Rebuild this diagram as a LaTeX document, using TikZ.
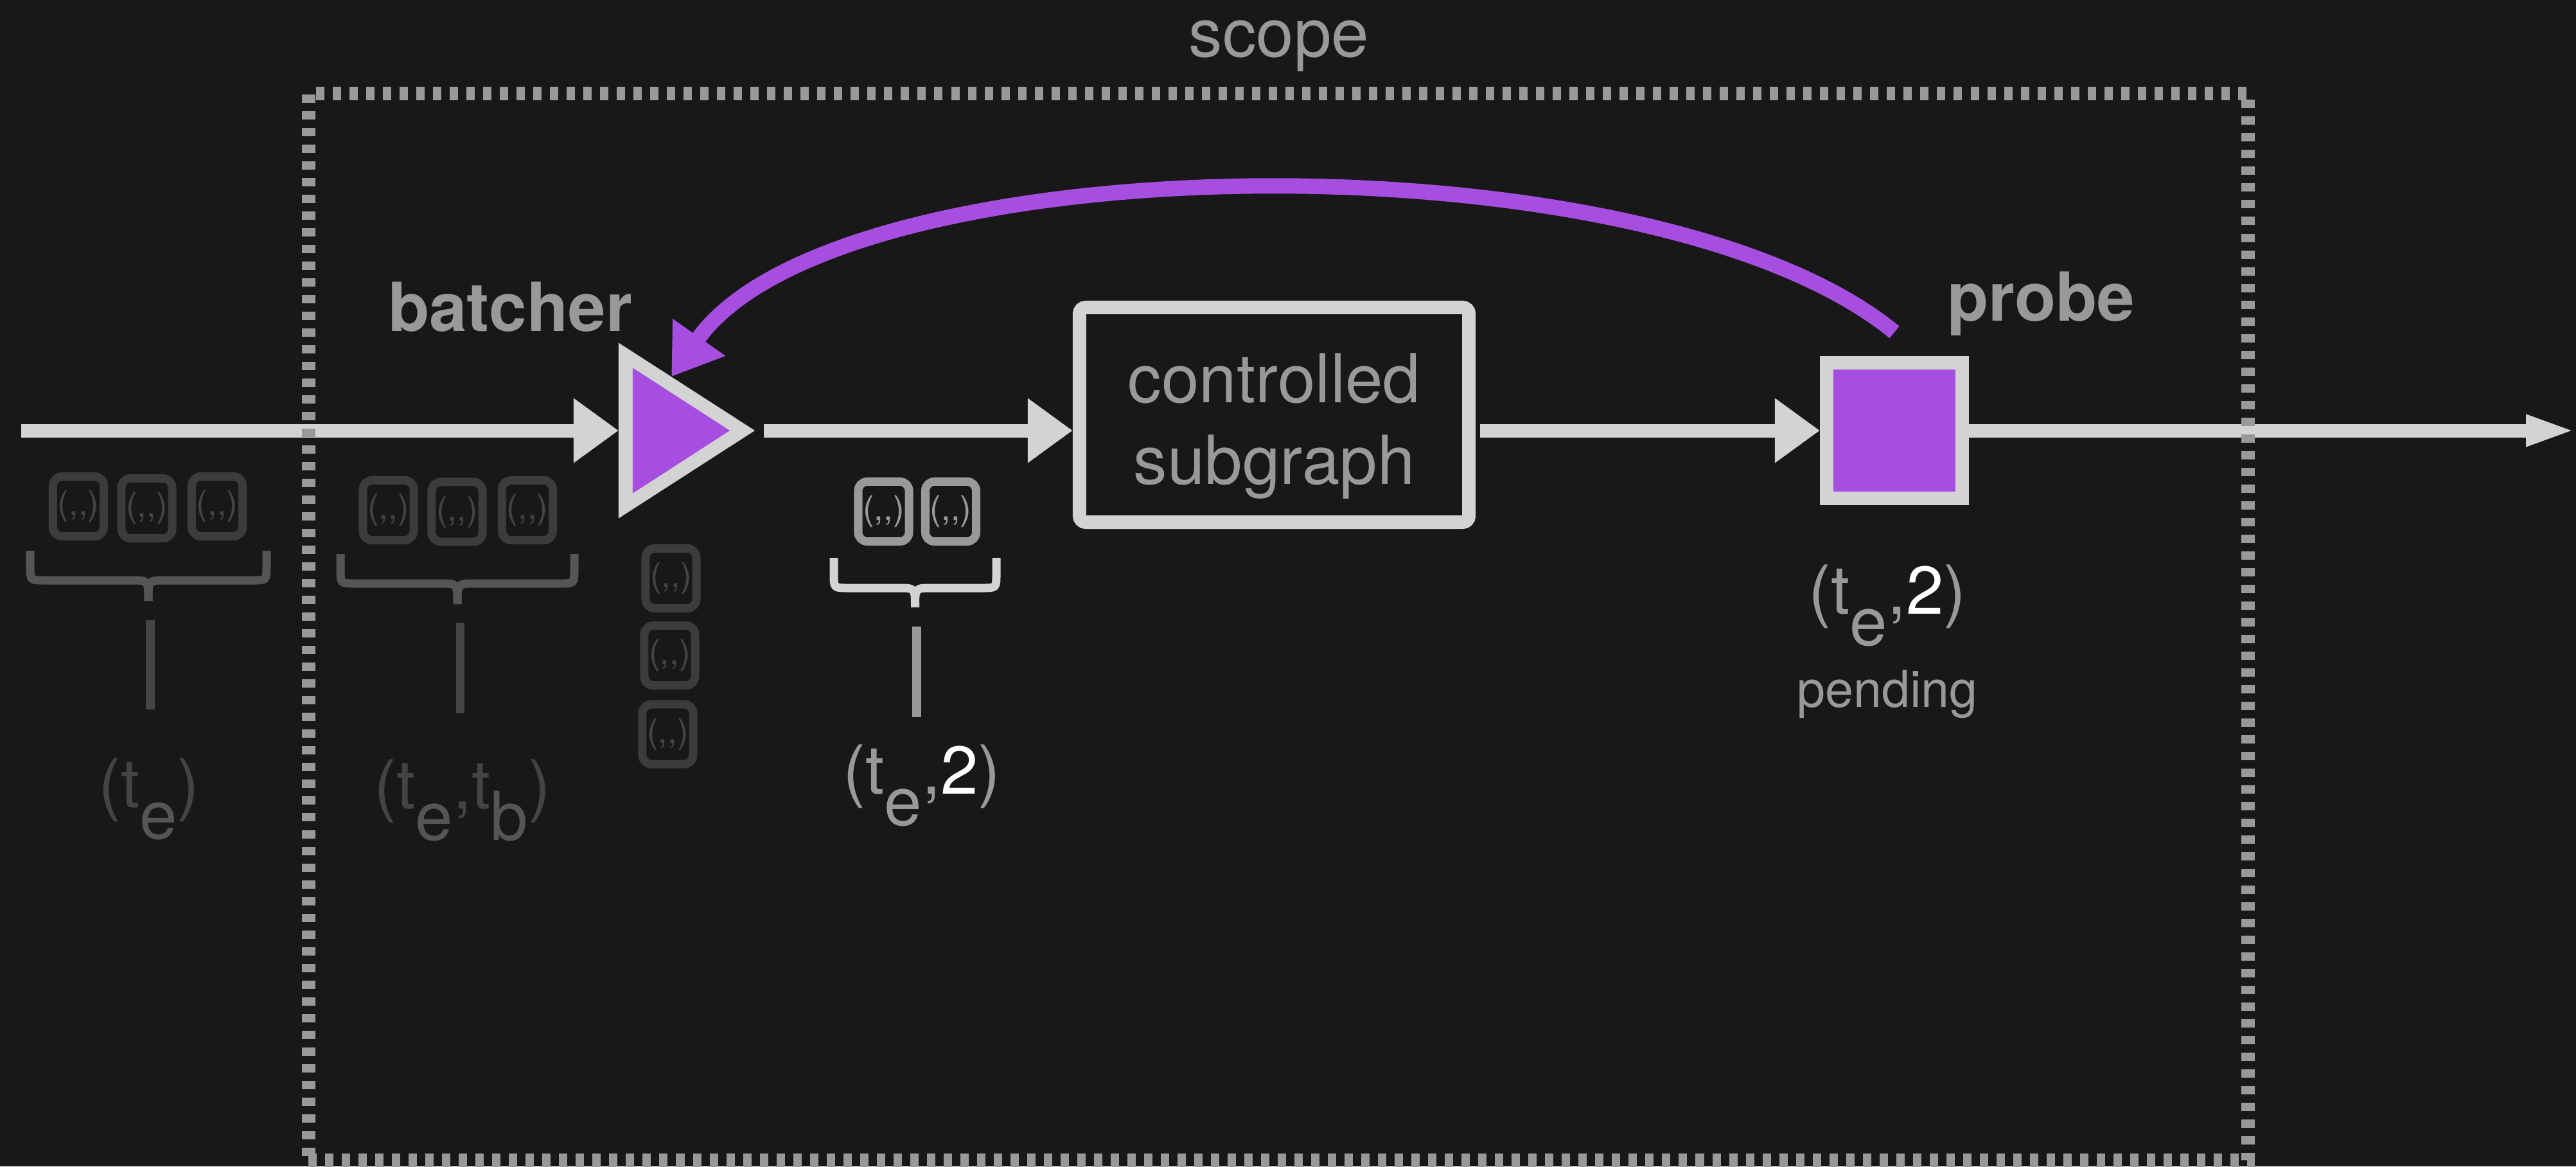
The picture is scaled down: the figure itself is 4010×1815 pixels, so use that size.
\documentclass[tikz,border=0pt]{standalone}
\usepackage{fontspec}
\setmainfont{TeX Gyre Heros}
\usetikzlibrary{arrows.meta,calc}

\definecolor{bg}{HTML}{181818}
\definecolor{wire}{HTML}{D3D3D3}
\definecolor{muted}{HTML}{999999}
\definecolor{faint}{HTML}{3C3C3C}
\definecolor{fainttext}{HTML}{444444}
\definecolor{faintsub}{HTML}{555555}
\definecolor{faintbrace}{HTML}{555555}
\definecolor{probeviolet}{HTML}{A64EDF}

\newcommand\bigfont{\fontsize{29.9}{36.1}\selectfont}
\newcommand\bigbold{\fontsize{29.9}{36.1}\selectfont\bfseries}
\newcommand\smallfont{\fontsize{22.5}{27}\selectfont}
\newcommand\tokfont{\fontsize{15}{18}\selectfont}
\newcommand\lowered[1]{\raisebox{-0.47em}{#1}}
% an empty record: parentheses with two separate commas (no quote ligature)
\newcommand\rec{(,{},)}

\begin{document}
\begin{tikzpicture}[
  x=0.01cm, y=-0.01cm,
  lbl/.style={inner sep=0, outer sep=0, text=muted, font=\bigfont},
  wirearrow/.style={draw=wire, line width=0.21cm,
    -{Triangle[length=0.70cm, width=0.96cm]}},
  loopback/.style={draw=probeviolet, line width=0.24cm,
    -{Triangle[length=0.75cm, width=0.95cm]}},
  subbox/.style={draw=wire, line width=0.21cm, rounded corners=0.1cm,
    minimum width=6.06cm, minimum height=3.34cm, inner sep=0},
  probebox/.style={draw=wire, fill=probeviolet, line width=0.21cm,
    minimum size=2.11cm, inner sep=0},
  scopeframe/.style={draw=muted, line width=0.21cm,
    dash pattern=on 0.13cm off 0.13cm,
    minimum width=30.18cm, minimum height=16.59cm, inner sep=0},
  tok/.style={draw=faint, line width=0.13cm, rounded corners=0.14cm,
    minimum width=0.79cm, minimum height=0.93cm, inner sep=0,
    text=fainttext, font=\tokfont},
  tokon/.style={tok, draw=muted, text=muted},
  stem/.style={line width=0.13cm},
  pics/curly/.style n args={5}{code={
    \draw[line width=0.13cm]
      (#1,#3) -- (#1,{#4-22}) .. controls (#1,#4) .. ({#1+22},#4)
      -- ({(#1+#2)/2-26},#4) .. controls ({(#1+#2)/2},#4) .. ({(#1+#2)/2},#5);
    \draw[line width=0.13cm]
      (#2,#3) -- (#2,{#4-22}) .. controls (#2,#4) .. ({#2-22},#4)
      -- ({(#1+#2)/2+26},#4) .. controls ({(#1+#2)/2},#4) .. ({(#1+#2)/2},#5);
  }}
]
\useasboundingbox (0,0) rectangle (4010,1815);
\fill[bg] (0,0) rectangle (4010,1815);

% --- main operators -------------------------------------------------
\coordinate (src) at (33,670);
\coordinate (sink) at (4010,670);

% batcher: a triangle inside an invisible frame node
\node[inner sep=0, outer sep=0, minimum width=2.12cm, minimum height=2.73cm]
  (batcher) at (1069,670) {};
\fill[wire] (batcher.north west) -- (batcher.south west) -- (batcher.east) -- cycle;
\fill[probeviolet] ([shift={(22,39)}]batcher.north west)
  -- ([shift={(22,-39)}]batcher.south west)
  -- ([shift={(-39,0)}]batcher.east) -- cycle;
\coordinate (battip) at ($(batcher.north west)!0.387!(batcher.east)$);

\node[subbox] (sub) at (1983.5,645.5) {};
\node[lbl, align=center, anchor=base] (subtext) at (1983.5,753)
  {controlled\\subgraph};

\node[probebox] (probe) at (2949,670) {};

% --- dataflow edges ---------------------------------------------------
\draw[wirearrow] (src) -- (batcher.west);
\draw[wirearrow, shorten <=0.14cm] (batcher.east) -- (sub.west |- batcher.east);
\draw[wirearrow, shorten <=0.07cm] (sub.east |- probe.west) -- (probe.west);
\draw[draw=wire, line width=0.21cm,
  -{Triangle[length=0.78cm, width=0.44cm]}] (probe.east) -- (sink);

% feedback from the probe to the batcher
\draw[loopback] ([yshift=0.37cm]probe.north)
  .. controls +(-385,-315) and +(257,-365) .. (battip);

% --- scope frame --------------------------------------------------------
\node[scopeframe] (scope) at (1990,975.5) {};
\node[lbl, anchor=base] (scopelabel) at (1991,88) {scope};

% --- operator labels ----------------------------------------------------
\node[lbl, font=\bigbold, anchor=base] (batcherlabel) at (794,515) {batcher};
\node[lbl, font=\bigbold, anchor=base] (probelabel) at (3177,499) {probe};

% --- records before the scope -------------------------------------------
\node[tok] (a1) at (122,788) {\rec};
\node[tok] (a2) at (228.5,791) {\rec};
\node[tok] (a3) at (338,788) {\rec};
\pic[color=faintbrace] {curly={47}{415}{857}{903}{935}};
\draw[stem, fainttext] (234,965) -- (234,1104);
\node[lbl, text=fainttext, anchor=base] (lblA) at (232,1256)
  {(t\lowered{\textcolor{faintsub}{e}})};

% --- records entering the batcher ---------------------------------------
\node[tok] (b1) at (604.5,794) {\rec};
\node[tok] (b2) at (711.5,796.5) {\rec};
\node[tok] (b3) at (821,794) {\rec};
\pic[color=faintbrace] {curly={530}{894}{862}{908}{940}};
\draw[stem, fainttext] (716,969) -- (716,1110);
\node[lbl, text=fainttext, anchor=base] (lblB) at (720,1258)
  {(t\lowered{\textcolor{faintsub}{e}},t\lowered{\textcolor{faintsub}{b}})};

% --- records held by the batcher ----------------------------------------
\node[tok] (c1) at (1044.5,900) {\rec};
\node[tok] (c2) at (1042.5,1020) {\rec};
\node[tok] (c3) at (1039.5,1142.5) {\rec};

% --- released batch -------------------------------------------------------
\node[tokon] (d1) at (1375.5,796) {\rec};
\node[tokon] (d2) at (1480,796) {\rec};
\pic[color=wire] {curly={1298}{1551}{868}{915}{945}};
\draw[stem, muted, line width=0.14cm] (1427,975) -- (1427,1116);
\node[lbl, anchor=base] (lblC) at (1435,1235)
  {(t\lowered{e},\textcolor{white}{2})};

% --- probe state ------------------------------------------------------------
\node[lbl, anchor=base] (lblD) at (2938,955)
  {(t\lowered{e},\textcolor{white}{2})};
\node[lbl, font=\smallfont, anchor=base] (pending) at (2938,1100) {pending};
\end{tikzpicture}
\end{document}
